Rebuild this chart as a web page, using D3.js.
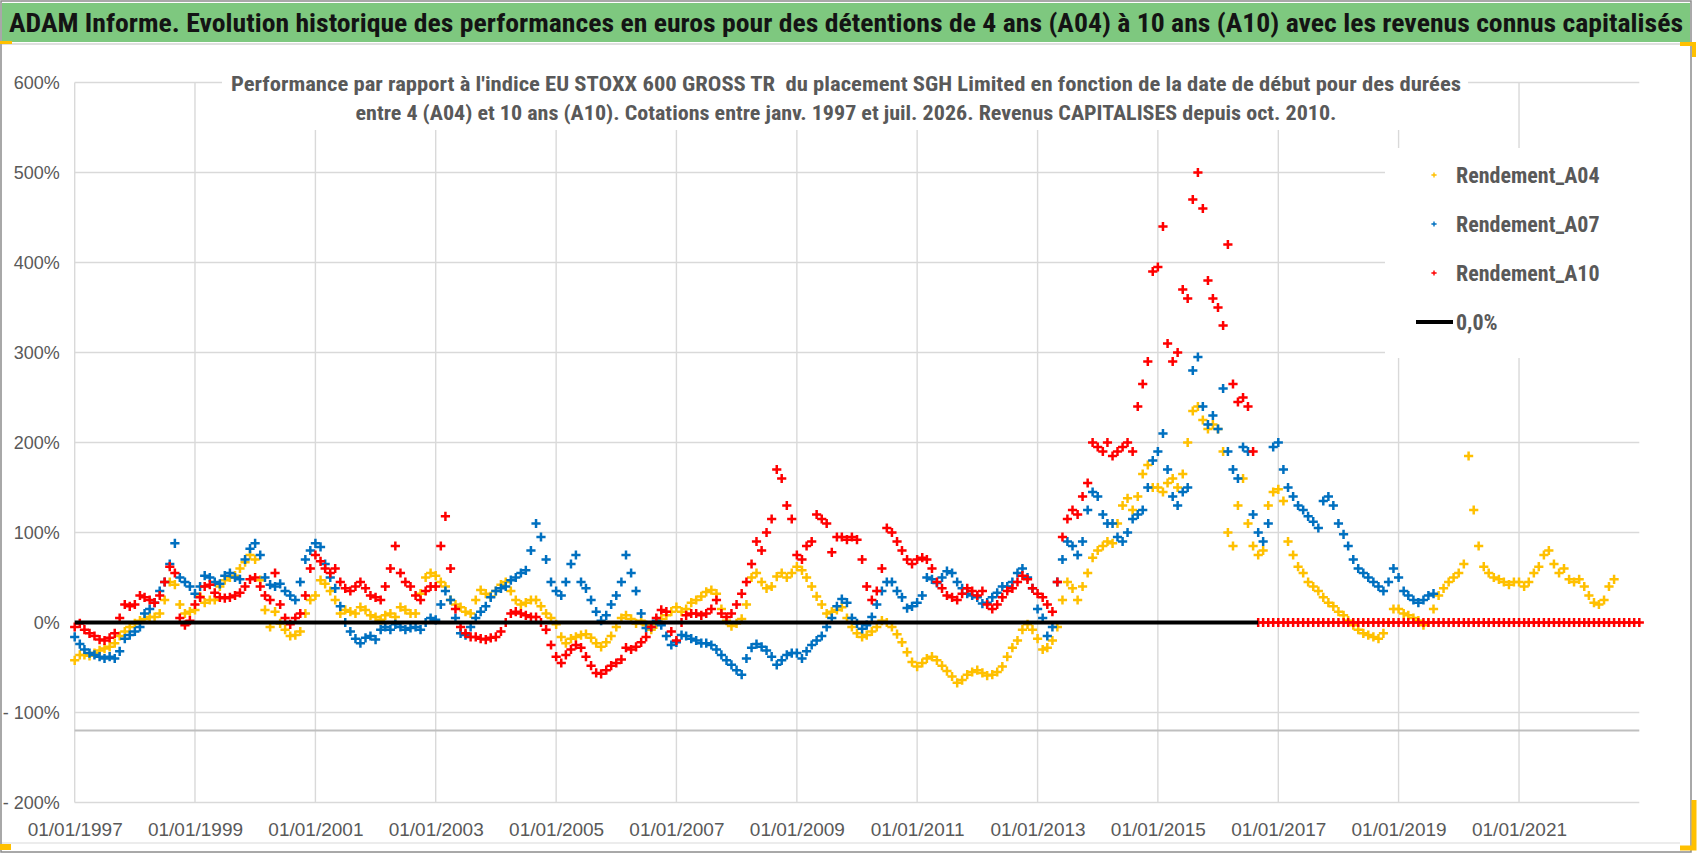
<!DOCTYPE html>
<html>
<head>
<meta charset="utf-8">
<script src="https://cdn.jsdelivr.net/npm/d3@7"></script>
<style>
  body { margin: 0; background: #fff; }
  svg { display: block; font-family: "Liberation Sans Narrow", "Roboto Condensed", "DejaVu Sans Condensed", "Liberation Sans", sans-serif; }
</style>
</head>
<body>
<svg id="chart" width="1698" height="856"></svg>
<script>
// monthly values (%), first value = January 1997
const startYear = 1997;
const seriesNames = ["Rendement_A04", "Rendement_A07", "Rendement_A10"];
const zeroLabel = "0,0%";

const a04 = [
  -42, -36, -36, -37, -34, -31, -29, -27, -23, -15, -10, -5,
  -1, 2, 4, 6, 6, 10, 25, 45, 42, 20, 10, 12,
  14, 29, 22, 25, 25, 40, 47, 50, 52, 60, 67, 75,
  70, 47, 14, -5, 12, -1, -8, -15, -14, -10, 10, 25,
  30, 47, 43, 35, 25, 10, 14, 12, 10, 17, 14, 8,
  6, 3, 8, 10, 6, 17, 14, 10, 10, 32, 50, 55,
  52, 45, 40, 25, 20, 17, 12, 10, 25, 36, 32, 29,
  35, 42, 45, 35, 25, 20, 22, 25, 25, 18, 10, 5,
  -2, -16, -23, -18, -16, -14, -13, -17, -23, -27, -22, -15,
  -5, 5, 8, 4, -1, 2, -3, -8, -2, 4, 8, 12,
  17, 12, 15, 22, 25, 29, 34, 36, 32, 15, 2, -4,
  -1, 4, 20, 50, 55, 45, 38, 40, 51, 55, 50, 55,
  62, 58, 50, 40, 29, 20, 10, 12, 14, 17, 5, -5,
  -12, -16, -14, -10, -5, 2, 0, -5, -13, -22, -33, -44,
  -49, -45, -40, -38, -42, -48, -54, -60, -67, -64, -58, -55,
  -53, -56, -59, -58, -55, -49, -38, -28, -20, -8, -2, -8,
  -18, -30, -28, -20, -5, 25, 45, 38, 25, 40, 55, 72,
  80, 85, 90, 88, 110, 130, 138, 125, 140, 165, 175, 150,
  150, 145, 155, 160, 150, 165, 200, 235, 240, 225, 215, 220,
  215, 190, 100, 85, 130, 160, 110, 85, 75, 80, 130, 145,
  148, 135, 90, 75, 62, 55, 45, 40, 35, 28, 22, 18,
  12, 8, 2, -3, -8, -12, -14, -16, -18, -12, 0, 15,
  15, 10, 8, 5, 2, -3, 0, 15, 30, 38, 45, 50,
  55, 65, 185, 125, 85, 62, 55, 50, 48, 45, 42, 45,
  45, 40, 45, 55, 62, 75, 80, 65, 55, 60, 48, 45,
  48, 40, 30, 22, 20, 25, 40, 48
];

const a07 = [
  -16, -24, -30, -34, -36, -38, -40, -38, -40, -32, -18, -14,
  -10, -5, 10, 15, 22, 35, 45, 65, 88, 50, 45, 40,
  32, 40, 52, 50, 45, 43, 52, 55, 50, 48, 70, 82,
  88, 75, 50, 42, 40, 43, 35, 30, 25, 45, 70, 80,
  88, 84, 65, 50, 38, 18, 0, -10, -18, -23, -17, -15,
  -19, -8, -5, -8, -2, -5, -8, -6, -5, -8, 0, 5,
  3, 20, 35, 25, 5, -12, -14, -5, 5, 12, 18, 28,
  35, 38, 40, 47, 50, 55, 58, 80, 110, 95, 70, 45,
  35, 30, 45, 65, 75, 45, 38, 25, 12, 2, 8, 20,
  30, 45, 75, 55, 35, 10, -6, -5, 2, -3, -15, -25,
  -22, -14, -15, -18, -20, -23, -23, -25, -30, -36, -42, -47,
  -53, -58, -40, -28, -24, -27, -31, -38, -47, -42, -36, -34,
  -34, -40, -32, -25, -20, -15, -5, 5, 18, 26, 22, 5,
  -1, -7, -3, 6, 20, 35, 45, 45, 35, 28, 16, 18,
  22, 30, 50, 48, 44, 50, 57, 55, 45, 38, 32, 30,
  28, 21, 22, 28, 33, 40, 40, 45, 55, 60, 50, 38,
  15, 5, -15, -5, 45, 70, 90, 85, 75, 90, 125, 145,
  140, 120, 110, 110, 95, 90, 100, 115, 120, 125, 150, 180,
  190, 210, 170, 140, 130, 145, 150, 280, 295, 240, 220, 230,
  215, 260, 190, 170, 160, 195, 190, 120, 100, 90, 110, 195,
  200, 170, 150, 140, 130, 125, 118, 112, 105, 135, 140, 130,
  110, 98, 85, 70, 60, 55, 50, 45, 40, 35, 45, 60,
  50, 35, 30, 25, 22, 25, 30, 32
];

const a10 = [
  -5, -1, -8, -12, -15, -19, -20, -17, -12, 5, 20, 18,
  20, 30, 28, 25, 22, 30, 45, 62, 55, 5, -3, 2,
  20, 28, 40, 42, 33, 28, 27, 28, 30, 33, 40, 48,
  50, 40, 30, 25, 55, 20, 5, -2, 5, 10, 30, 60,
  75, 68, 60, 55, 60, 45, 38, 35, 40, 45, 38, 30,
  28, 25, 40, 60, 85, 55, 45, 40, 30, 25, 35, 40,
  40, 85, 118, 60, 15, -5, -12, -16, -16, -18, -19, -17,
  -16, -10, 0, 10, 12, 10, 8, 6, 6, 0, -8, -25,
  -38, -45, -36, -30, -25, -28, -38, -48, -56, -57, -53, -48,
  -45, -41, -28, -30, -27, -22, -16, -5, 5, 14, 12, -10,
  -20, 0, 8, 10, 10, 8, 10, 15, 25, 10, 6, 10,
  20, 32, 45, 65, 90, 80, 100, 115, 170, 160, 130, 115,
  75, 70, 85, 90, 120, 115, 110, 78, 95, 95, 92, 95,
  92, 70, 40, 25, 35, 60, 105, 100, 90, 80, 70, 65,
  70, 72, 70, 60, 45, 38, 30, 28, 25, 32, 38, 35,
  30, 35, 20, 15, 20, 28, 35, 38, 45, 52, 48, 38,
  32, 28, 20, 12, 45, 95, 115, 125, 120, 140, 155, 200,
  195, 190, 200, 185, 190, 195, 200, 190, 240, 265, 290, 390,
  395, 440, 310, 290, 300, 370, 360, 470, 500, 460, 380, 360,
  350, 330, 420, 265, 245, 250, 240, 190, 0, 0, 0, 0,
  0, 0, 0, 0, 0, 0, 0, 0, 0, 0, 0, 0,
  0, 0, 0, 0, 0, 0, 0, 0, 0, 0, 0, 0,
  0, 0, 0, 0, 0, 0, 0, 0, 0, 0, 0, 0,
  0, 0, 0, 0, 0, 0, 0, 0, 0, 0, 0, 0,
  0, 0, 0, 0, 0, 0, 0, 0, 0, 0, 0, 0,
  0, 0, 0, 0, 0, 0, 0, 0, 0, 0, 0, 0,
  0
];

const yTicks = [-200, -100, 0, 100, 200, 300, 400, 500, 600];
const xTickYears = [1997, 1999, 2001, 2003, 2005, 2007, 2009, 2011, 2013, 2015, 2017, 2019, 2021];
const xEndYear = 2023;
const lowLineValue = -120;

const titleText = "ADAM Informe. Evolution historique des performances en euros pour des détentions de 4 ans (A04) à 10 ans (A10) avec les revenus connus capitalisés";
const subtitleLines = [
  "Performance par rapport à l'indice EU STOXX 600 GROSS TR  du placement SGH Limited en fonction de la date de début pour des durées",
  "entre 4 (A04) et 10 ans (A10). Cotations entre janv. 1997 et juil. 2026. Revenus CAPITALISES depuis oct. 2010."
];

const colors = ["#FFC000", "#0070C0", "#FF0000"];

const svg = d3.select("#chart");
const W = 1698, H = 856;
const plot = { left: 74.7, right: 1639.3, top: 82.5, bottom: 802.5 };

const x = d3.scaleTime()
  .domain([new Date(startYear, 0, 1), new Date(xEndYear, 0, 1)])
  .range([plot.left, plot.right]);
const y = d3.scaleLinear()
  .domain([-200, 600])
  .range([plot.bottom, plot.top]);

const toPoints = arr => arr.map((v, i) => ({ date: new Date(startYear, i, 1), value: v }));
const series = [a04, a07, a10].map((arr, i) => ({ name: seriesNames[i], color: colors[i], points: toPoints(arr) }));

// frame
svg.append("rect").attr("width", W).attr("height", H).attr("fill", "#fff");
svg.append("rect")
  .attr("x", 1).attr("y", 1).attr("width", 1690).attr("height", 851)
  .attr("fill", "none").attr("stroke", "#8c8c8c").attr("stroke-width", 1.5);
svg.append("rect")
  .attr("x", 2).attr("y", 3).attr("width", 1688).attr("height", 39)
  .attr("fill", "#7ec87f");
svg.append("line").attr("x1", 2).attr("x2", 1690).attr("y1", 44).attr("y2", 44)
  .attr("stroke", "#d4d4d4").attr("stroke-width", 1.5);
svg.append("line").attr("x1", 2).attr("x2", 1680).attr("y1", 843).attr("y2", 843)
  .attr("stroke", "#d9d9d9").attr("stroke-width", 1.2);

svg.append("text")
  .attr("x", 846).attr("y", 32)
  .attr("text-anchor", "middle")
  .attr("textLength", 1674).attr("lengthAdjust", "spacingAndGlyphs")
  .attr("font-size", 25).attr("font-weight", "bold").attr("fill", "#141414")
  .text(titleText);

// gridlines
const grid = svg.append("g");
grid.selectAll(".hg").data(yTicks).enter().append("line")
  .attr("x1", plot.left).attr("x2", plot.right)
  .attr("y1", d => y(d)).attr("y2", d => y(d))
  .attr("stroke", "#d9d9d9").attr("stroke-width", 1.4);
grid.selectAll(".vg").data(xTickYears).enter().append("line")
  .attr("x1", d => x(new Date(d, 0, 1))).attr("x2", d => x(new Date(d, 0, 1)))
  .attr("y1", plot.top).attr("y2", plot.bottom)
  .attr("stroke", "#d9d9d9").attr("stroke-width", 1.4);
grid.append("line")
  .attr("x1", plot.left).attr("x2", plot.right)
  .attr("y1", y(lowLineValue)).attr("y2", y(lowLineValue))
  .attr("stroke", "#bfbfbf").attr("stroke-width", 1.8);

// axes
const yAxis = svg.append("g")
  .attr("transform", `translate(${plot.left},0)`)
  .call(d3.axisLeft(y).tickValues(yTicks).tickSize(0).tickPadding(15)
    .tickFormat(d => d < 0 ? "- " + Math.abs(d) + "%" : d + "%"));
yAxis.select(".domain").remove();
yAxis.selectAll("text").attr("font-size", 18).attr("fill", "#595959").attr("font-family", null);

const xAxis = svg.append("g")
  .attr("transform", `translate(0,${plot.bottom})`)
  .call(d3.axisBottom(x).tickValues(xTickYears.map(d => new Date(d, 0, 1))).tickSize(0).tickPadding(20)
    .tickFormat(d3.timeFormat("%d/%m/%Y")));
xAxis.select(".domain").remove();
xAxis.selectAll("text").attr("font-size", 19).attr("fill", "#595959").attr("font-family", null);

// subtitle box
svg.append("rect")
  .attr("x", 222).attr("y", 66).attr("width", 1246).attr("height", 64)
  .attr("fill", "#fff");
svg.selectAll(".sub").data(subtitleLines).enter().append("text")
  .attr("x", 846).attr("y", (d, i) => 91 + i * 29)
  .attr("text-anchor", "middle")
  .style("white-space", "pre")
  .attr("textLength", (d, i) => i === 0 ? 1230 : 981).attr("lengthAdjust", "spacingAndGlyphs")
  .attr("font-size", 20).attr("font-weight", "bold").attr("fill", "#595959")
  .text(d => d);

// legend
const legend = svg.append("g");
legend.append("rect").attr("x", 1385).attr("y", 148).attr("width", 270).attr("height", 210).attr("fill", "#fff");
const plus = s => `M${-s},0H${s}M0,${-s}V${s}`;
const legendRows = seriesNames.concat([zeroLabel]);
legendRows.forEach((name, i) => {
  const cy = 175 + i * 49;
  if (i < 3) {
    legend.append("path").attr("d", plus(2.6)).attr("transform", `translate(1434,${cy})`)
      .attr("stroke", colors[i]).attr("stroke-width", 1.4).attr("fill", "none");
  } else {
    legend.append("line").attr("x1", 1416).attr("x2", 1453).attr("y1", cy).attr("y2", cy)
      .attr("stroke", "#000").attr("stroke-width", 4);
  }
  legend.append("text").attr("x", 1456).attr("y", cy + 8)
    .attr("font-size", 22).attr("font-weight", "bold").attr("fill", "#595959")
    .text(name);
});

// markers
series.forEach(s => {
  svg.append("g").selectAll("path").data(s.points).enter().append("path")
    .attr("d", plus(4.6))
    .attr("transform", d => `translate(${x(d.date)},${y(d.value)})`)
    .attr("stroke", s.color).attr("stroke-width", 2.5).attr("fill", "none");
});

// 0,0% reference line, up to the last non-zero A10 value
const lastIdx = a10.reduce((acc, v, i) => v !== 0 ? i : acc, 0);
svg.append("line")
  .attr("x1", x(new Date(startYear, 0, 1))).attr("x2", x(new Date(startYear, lastIdx + 1, 1)))
  .attr("y1", y(0)).attr("y2", y(0))
  .attr("stroke", "#000").attr("stroke-width", 4);

// selection handles
const hcol = "#FFC000";
svg.append("rect").attr("x", 0).attr("y", 41).attr("width", 12).attr("height", 3).attr("fill", hcol);
svg.append("rect").attr("x", 0).attr("y", 844).attr("width", 11).attr("height", 6).attr("fill", hcol);
svg.append("path").attr("d", "M1680,44H1694V57").attr("stroke", hcol).attr("stroke-width", 4).attr("fill", "none");
svg.append("path").attr("d", "M1694,800V848H1680").attr("stroke", hcol).attr("stroke-width", 5).attr("fill", "none");
</script>
</body>
</html>
